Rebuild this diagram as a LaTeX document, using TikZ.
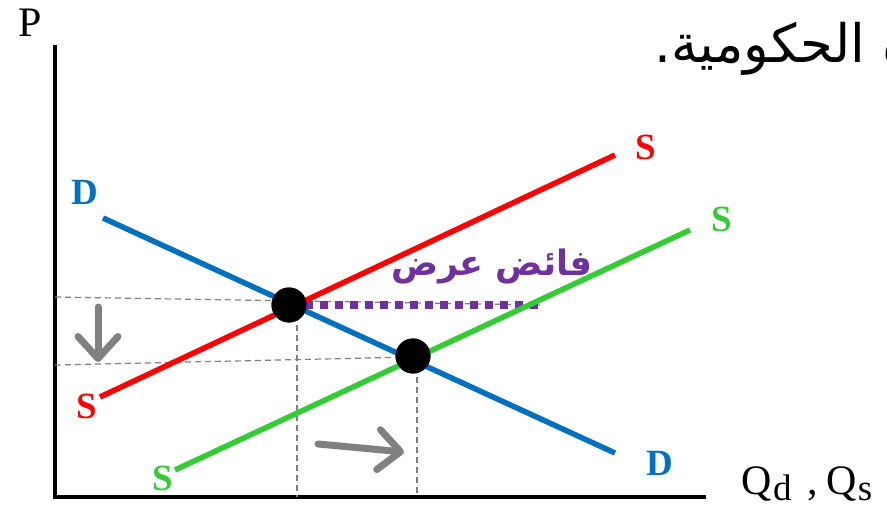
\documentclass[tikz,border=0pt]{standalone}
\usepackage{fontspec}
\setmainfont{Liberation Serif}
\newfontfamily\arabicfont[Script=Arabic]{DejaVu Sans}
\TeXXeTstate=1
\usetikzlibrary{arrows.meta}
\definecolor{cred}{HTML}{FF0000}
\definecolor{cblue}{HTML}{0070C0}
\definecolor{cgreen}{HTML}{33CC33}
\definecolor{cpurple}{HTML}{7030A0}
\definecolor{cgray}{HTML}{808080}
\newcommand{\mysub}[1]{\hspace{1.5pt}\raisebox{-6pt}{\fontsize{37}{38}\selectfont #1}}
\tikzset{
  curve/.style={line width=5.5pt},
  lbl/.style={font=\fontsize{37}{38}\selectfont\bfseries, inner sep=0pt},
  guide/.style={cgray, line width=1.2pt, dash pattern=on 6pt off 4pt},
  shift arrow/.style={cgray, line width=7pt, line cap=round,
     -{Straight Barb[length=22pt, width=40pt, line width=7pt, round]}},
  eqdot/.style={circle, fill=black, minimum size=35pt, inner sep=0pt},
}
\begin{document}
\begin{tikzpicture}[x=1pt, y=-1pt]
\useasboundingbox (0,0) rectangle (887,508);
% axes
\coordinate (O) at (55,497);
\coordinate (Ytop) at (55,45);
\coordinate (Xend) at (706,497);
\draw[line width=3.5pt] (Ytop) -- (O) -- (Xend);
\node[font=\fontsize{42}{44}\selectfont, inner sep=0pt] (P) at (30,23) {P};
\node[font=\fontsize{42}{44}\selectfont, anchor=base west, inner sep=0pt] (Q) at (741,494) {Q\mysub{d}\hspace{16pt},\hspace{8pt}Q\mysub{s}};
% title fragment
\node[font=\arabicfont\fontsize{53}{55}\selectfont, anchor=base west, inner sep=0pt] (T) at (654,63) {\beginR ة الحكومية.\endR};
% equilibrium points
\node[eqdot] (E1) at (289,305) {};
\node[eqdot] (E2) at (413,356) {};
% guides
\coordinate (G1a) at (55,297);
\coordinate (G1b) at (540,305);
\coordinate (G2a) at (55,365);
\coordinate (G2b) at (413,357);
\coordinate (V1) at (297,497);
\coordinate (V2) at (417,497);
\draw[guide] (G1a) -- (G1b);
\draw[guide] (G2a) -- (G2b);
\draw[guide] (297,305) -- (V1);
\draw[guide] (417,357) -- (V2);
% surplus
\coordinate (Sp1) at (305,305);
\coordinate (Sp2) at (540,305);
\draw[cpurple, line width=8pt, dash pattern=on 8pt off 7pt] (Sp1) -- (Sp2);
\node[cpurple, font=\arabicfont\bfseries\fontsize{35}{37}\selectfont, inner sep=0pt] (surplus) at (492,266) {\beginR فائض عرض\endR};
% curves
\coordinate (S1a) at (100,397);
\coordinate (S1b) at (615,155);
\coordinate (Da) at (103,218);
\coordinate (Db) at (615,453);
\coordinate (S2a) at (175,470);
\coordinate (S2b) at (690,230);
\draw[curve, cblue] (Da) -- (Db);
\draw[curve, cred] (S1a) -- (S1b);
\draw[curve, cgreen] (S2a) -- (S2b);
\node[eqdot] at (E1) {};
\node[eqdot] at (E2) {};
% labels
\node[lbl, cred] (s1l) at (87,406) {S};
\node[lbl, cred] (s1r) at (646,147) {S};
\node[lbl, cblue] (dl) at (85,192) {D};
\node[lbl, cblue] (dr) at (660,463) {D};
\node[lbl, cgreen] (s2l) at (163,478) {S};
\node[lbl, cgreen] (s2r) at (722,219) {S};
% shift arrows
\coordinate (A1a) at (98,307);
\coordinate (A1b) at (98,362);
\coordinate (A2a) at (318,444);
\coordinate (A2b) at (404,452);
\draw[shift arrow] (A1a) -- (A1b);
\draw[shift arrow] (A2a) -- (A2b);
\end{tikzpicture}
\end{document}
